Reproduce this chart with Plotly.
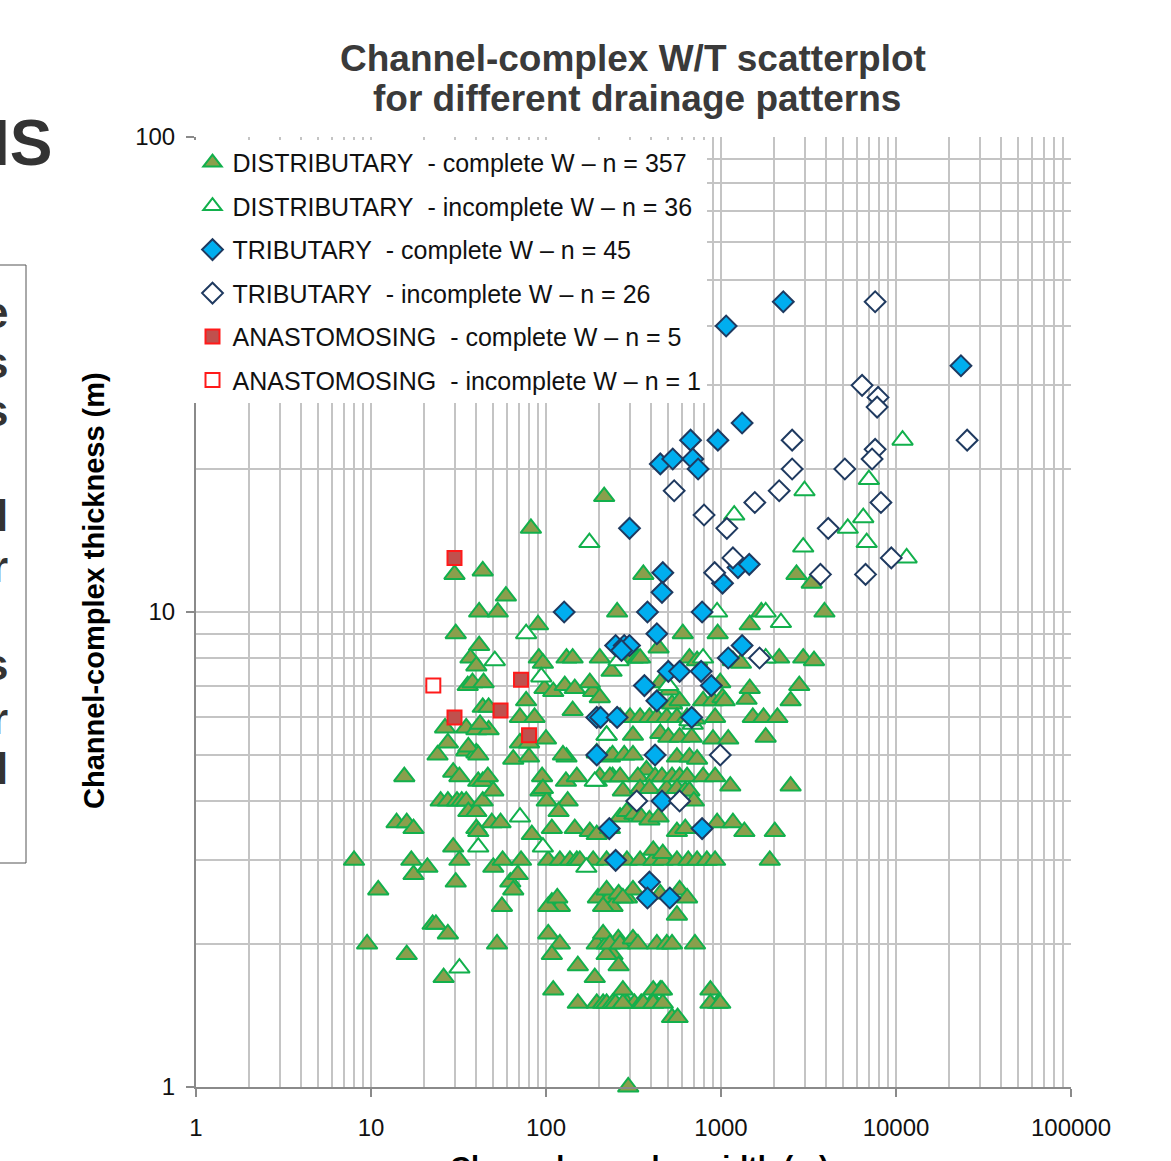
import plotly.graph_objects as go

FONT = "Arial, 'Liberation Sans', Helvetica, sans-serif"

# (channel-complex width m, thickness m) pairs for each drainage pattern
dist_complete = [
    (8, 3), (9.5, 2), (11, 2.6), (14, 3.6), (16, 3.6), (17.5, 3.5), (15.5, 4.5), (16, 1.9),
    (17, 3), (17.5, 2.8), (21, 2.9), (22.5, 2.2), (23.5, 2.2), (27.5, 2.1), (26, 1.7),
    (29.5, 3.2), (32, 3), (30.5, 2.7),
    (25, 4), (27.5, 4), (31, 4), (33, 4), (35, 4), (29.5, 4.6), (32, 4.5), (41, 4.4),
    (43.5, 4.4), (46.5, 4.5), (36, 3.8), (40, 3.8), (43.5, 4), (40, 3.5), (50, 4.2),
    (49, 3.6), (55, 3.6), (41, 3.45),
    (50, 2.9), (56.5, 3), (72, 3), (62.5, 2.7), (69, 2.8), (65, 2.6), (56, 2.4), (52.5, 2),
    (95, 4.5), (93, 4.2), (101, 4), (130, 4.4), (150, 4.5), (133, 4), (118, 3.8), (108, 3.5),
    (146, 3.5), (83, 3.4), (103, 3), (120, 3), (137, 3), (150, 3), (108, 2.45), (120, 2.4),
    (103, 2.4), (103, 2.1), (120, 2), (108, 1.9), (110, 1.6), (152, 1.8), (96, 4.25),
    (131, 4.95), (116, 2.5),
    (82, 15), (30, 12), (43.5, 12.2), (59, 10.8), (41.5, 10), (53, 10), (90, 9.4), (30.5, 9),
    (41.5, 8.5), (37, 8), (40, 7.7), (131, 8), (142, 8), (91, 8), (96, 7.8), (35.7, 7),
    (38, 7.1), (44, 7.1), (98, 6.9), (110, 6.8), (128, 7), (146, 6.9), (142, 6.2), (43.5, 6.3),
    (47, 6.3), (77, 6.5), (71, 6), (86, 6), (26.5, 5.7), (35, 5.7), (40, 5.65), (47, 5.65),
    (42, 5.8), (24, 5), (27.5, 5.3), (35, 5.1), (40, 5.05), (65, 4.9), (80, 4.95), (100, 5.4),
    (125, 5), (71, 5.3), (80, 5.3), (36, 5.2), (41, 5),
    (203, 8), (237, 7.5), (186, 6.8), (178, 7.1), (195, 5.05), (232, 4.95), (195, 4.4),
    (240, 4.5), (178, 3.45), (195, 3.4), (232, 3.5), (156, 3), (186, 3), (222, 3), (198, 2.5),
    (232, 2.5), (240, 2.4), (212, 2.4), (195, 2.0), (222, 2.0), (240, 1.9), (222, 1.9),
    (259, 2.05), (190, 1.7), (152, 1.5), (195, 1.5), (212, 1.5), (222, 1.5), (240, 1.5),
    (203, 6.6), (222, 5.5), (240, 5), (203, 4.5), (232, 4.5), (215, 17.5), (255, 10),
    (212, 2.1), (232, 2), (260, 1.8), (222, 2.6), (260, 2.55), (250, 1.5),
    (265, 6), (302, 6), (345, 6), (390, 6), (430, 6), (490, 6), (314, 5.5), (450, 5.55),
    (500, 5.45), (280, 5), (314, 5), (375, 4.65), (335, 4.5), (265, 4.5), (420, 4.5),
    (460, 4.5), (275, 4.2), (345, 4.25), (390, 4.25), (490, 4.25), (265, 3.7), (290, 3.8),
    (320, 3.75), (350, 3.7), (390, 3.65), (440, 3.7), (290, 3), (345, 3), (410, 3), (465, 3),
    (410, 3.15), (465, 3.1), (290, 2.5), (314, 2.6), (275, 2.5), (450, 2.55), (265, 2),
    (314, 2.05), (335, 2), (430, 2), (490, 2), (450, 1.6), (410, 1.52), (290, 1.5), (320, 1.5),
    (350, 1.5), (275, 1.5), (360, 1.5), (410, 1.5), (465, 1.5), (275, 1.6), (410, 1.6),
    (460, 1.6), (295, 1.0), (440, 8.4), (314, 8), (335, 8), (345, 8), (450, 7.1), (360, 12),
    (510, 6.85), (525, 6.4), (580, 6.5), (790, 6.5), (900, 6.5), (560, 6), (640, 6),
    (710, 5.95), (925, 6), (580, 5.45), (680, 5.45), (900, 5.4), (560, 4.95), (660, 4.95),
    (730, 4.9), (525, 4.5), (580, 4.5), (640, 4.5), (790, 4.5), (925, 4.5), (560, 4.25),
    (625, 4.2), (660, 4.2), (700, 4), (560, 3.45), (625, 3.5), (950, 3.6), (560, 3), (650, 3),
    (730, 3), (830, 3), (925, 3), (580, 2.6), (640, 2.5), (560, 2.3), (525, 2), (710, 2),
    (870, 1.6), (960, 1.5), (525, 1.4), (565, 1.4), (870, 1.5), (990, 1.5), (605, 9),
    (957, 9), (660, 8), (730, 7.9), (990, 7.1), (1020, 6.6),
    (1460, 9.4), (1170, 7.9), (1050, 6.5), (1400, 6.55), (1460, 6.9), (1520, 6), (1750, 6),
    (2100, 6), (1100, 5.4), (1800, 5.45), (1130, 4.3), (1170, 3.6), (1360, 3.45),
    (2030, 3.45), (1900, 3), (2700, 12), (3300, 11.5), (3900, 10), (1700, 10), (2150, 8),
    (2950, 8), (3400, 7.9), (1300, 7.8), (2800, 7), (2500, 6.5), (2500, 4.3),
]

dist_incomplete = [
    (51, 7.9), (94, 7.3), (77, 9), (71, 3.7), (41, 3.2), (96, 3.2), (170, 2.9), (32, 1.78),
    (177, 14), (1190, 16), (3000, 18), (2950, 13.7), (10900, 23), (7000, 19), (6500, 15.8),
    (5300, 15), (6800, 14), (11500, 13), (2200, 9.5), (950, 10), (1800, 10), (1800, 8),
    (790, 8), (260, 7.9), (500, 7), (222, 5.5), (690, 5.8), (190, 4.4), (660, 5.9),
]

trib_complete = [
    (2270, 45), (1070, 40), (23500, 33), (1320, 25), (670, 23), (960, 23), (450, 20.5),
    (530, 21), (690, 21), (740, 20), (300, 15), (465, 12.1), (460, 11), (1250, 12.4),
    (1450, 12.6), (1020, 11.5), (127, 10), (380, 10), (780, 10), (430, 9), (250, 8.5),
    (280, 8.5), (300, 8.5), (1320, 8.5), (1100, 8), (500, 7.5), (580, 7.5), (770, 7.5),
    (880, 7), (365, 7), (430, 6.5), (195, 6), (205, 6), (255, 6), (680, 6), (195, 5),
    (420, 5), (460, 4), (230, 3.5), (780, 3.5), (250, 3), (390, 2.7), (380, 2.5), (510, 2.5),
    (270, 8.3),
]

trib_incomplete = [
    (7600, 45), (6400, 30), (7900, 28.3), (7800, 27), (25500, 23), (2550, 23), (7600, 22),
    (7300, 21), (5100, 20), (2550, 20), (8200, 17), (2150, 18), (1560, 17), (540, 18),
    (800, 16), (4100, 15), (1080, 15), (9400, 13), (1170, 13), (6700, 12), (3700, 12),
    (920, 12.1), (1660, 8), (990, 5), (330, 4), (580, 4),
]

anast_complete = [(30, 13), (72, 7.2), (55, 6.2), (30, 6), (80, 5.5)]
anast_incomplete = [(22.7, 7)]

NB = "\u00a0"
series = [
    ("DISTRIBUTARY" + NB + " - complete W \u2013 n = 357", dist_complete,
     dict(symbol="triangle-up", size=18, color="#8A9F4C", line=dict(color="#12B04C", width=2))),
    ("DISTRIBUTARY" + NB + " - incomplete W \u2013 n = 36", dist_incomplete,
     dict(symbol="triangle-up", size=18, color="white", line=dict(color="#12B04C", width=2))),
    ("TRIBUTARY" + NB + " - complete W \u2013 n = 45", trib_complete,
     dict(symbol="diamond", size=16, color="#00AEEF", line=dict(color="#1F3A60", width=2))),
    ("TRIBUTARY" + NB + " - incomplete W \u2013 n = 26", trib_incomplete,
     dict(symbol="diamond", size=16, color="white", line=dict(color="#1F3A60", width=2))),
    ("ANASTOMOSING" + NB + " - complete W \u2013 n = 5", anast_complete,
     dict(symbol="square", size=14, color="#C0504D", line=dict(color="#FF1A1A", width=2))),
    ("ANASTOMOSING" + NB + " - incomplete W \u2013 n = 1", anast_incomplete,
     dict(symbol="square", size=14, color="white", line=dict(color="#FF1A1A", width=2))),
]

fig = go.Figure()
for i, (name, pts, marker) in enumerate(series):
    fig.add_trace(go.Scatter(
        x=[p[0] for p in pts], y=[p[1] for p in pts],
        mode="markers", name=name, marker=marker,
        legendgroup=f"g{i}", cliponaxis=False,
    ))

GRID = "#c4c4c4"
AXLINE = "#8a8a8a"
axis_common = dict(
    type="log", dtick=1, tickformat="d",
    showgrid=True, gridcolor=GRID, gridwidth=2,
    minor=dict(dtick="D1", showgrid=True, gridcolor=GRID, gridwidth=2, ticks=""),
    showline=True, linecolor=AXLINE, linewidth=2,
    ticks="outside", ticklen=8, tickwidth=2, tickcolor=AXLINE,
    tickfont=dict(family=FONT, size=24, color="#111111"),
    zeroline=False,
)
fig.update_xaxes(range=[0, 5], ticklabelstandoff=10, **axis_common)
fig.update_yaxes(range=[0, 2], ticklabelstandoff=6, **axis_common)

fig.update_layout(
    width=1171, height=1161,
    margin=dict(l=196, r=100, t=137, b=74),
    paper_bgcolor="white", plot_bgcolor="white",
    showlegend=True,
    legend=dict(
        x=-0.004, y=0.997, xanchor="left", yanchor="top",
        bgcolor="white", borderwidth=0,
        font=dict(family=FONT, size=25, color="#111111"),
        traceorder="grouped", tracegroupgap=8, itemsizing="trace",
    ),
)

def px_x(px):
    return (px - 196) / 875.0

def px_y(py):
    return (1087 - py) / 950.0

ann = []
# chart title, two lines
ann.append(dict(text="<b>Channel-complex W/T scatterplot</b>", x=px_x(633), y=px_y(58),
                font=dict(family=FONT, size=37, color="#3a3a3a")))
ann.append(dict(text="<b>for different drainage patterns</b>", x=px_x(637), y=px_y(99),
                font=dict(family=FONT, size=37, color="#3a3a3a")))
# axis titles
ann.append(dict(text="<b>Channel-complex thickness (m)</b>", x=px_x(94), y=px_y(591),
                textangle=-90, font=dict(family=FONT, size=29, color="black")))
ann.append(dict(text="<b>Channel-complex width (m)</b>", x=px_x(639), y=px_y(1149),
                yanchor="top", font=dict(family=FONT, size=29, color="black")))
# neighbouring slide text at the left edge
ann.append(dict(text="<b>IS</b>", x=px_x(54), y=px_y(143), xanchor="right",
                font=dict(family=FONT, size=64, color="#333333")))
for ch, py in [("e", 312), ("s", 362), ("s", 410), ("l", 515), ("r", 566),
               ("s", 664), ("r", 718), ("l", 768)]:
    ann.append(dict(text=f"<b>{ch}</b>", x=px_x(10), y=px_y(py), xanchor="right",
                    font=dict(family=FONT, size=44, color="#333333")))

for a in ann:
    a.setdefault("xref", "paper")
    a.setdefault("yref", "paper")
    a.setdefault("showarrow", False)
    a.setdefault("xanchor", "center")
    a.setdefault("yanchor", "middle")
fig.update_layout(annotations=ann)

fig.add_shape(type="rect", xref="paper", yref="paper",
              x0=px_x(-6), x1=px_x(26), y0=px_y(863), y1=px_y(265),
              line=dict(color="#555555", width=1), fillcolor="rgba(0,0,0,0)")

fig.write_html("out.html")
